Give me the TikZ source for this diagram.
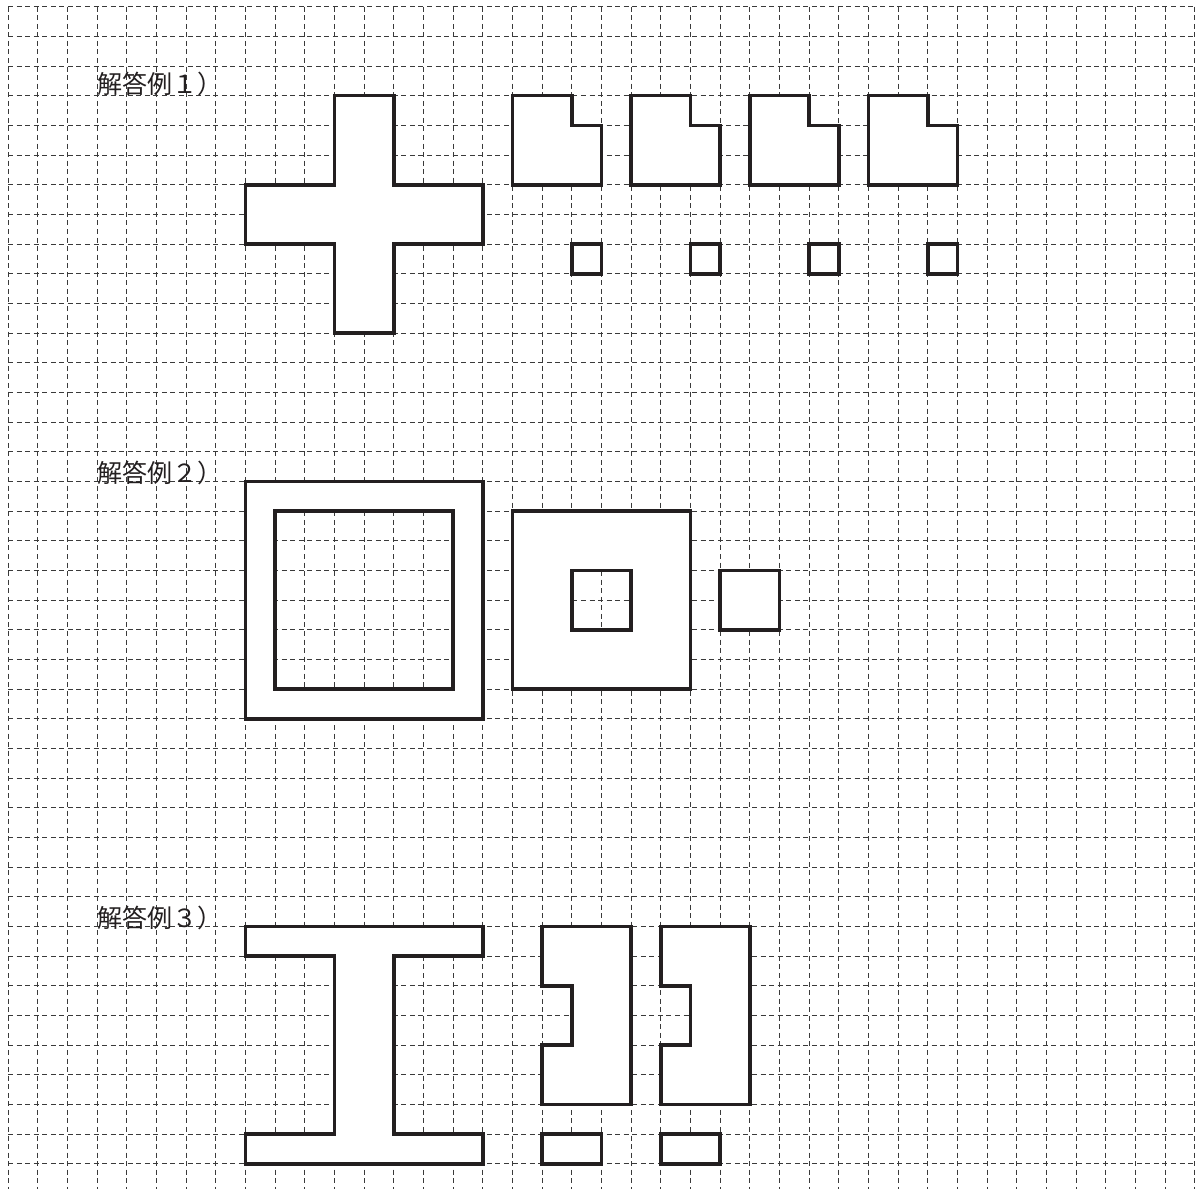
\documentclass[tikz,border=0pt]{standalone}
\usepackage{fontspec}
\newfontfamily\jp{Noto Sans CJK JP}
\definecolor{Ink}{HTML}{231F20}
\definecolor{GridInk}{HTML}{3A3A3A}

\begin{document}
\begin{tikzpicture}[x=0.5cm,y=-0.5cm,every node/.style={font=\jp\fontsize{12}{14}\selectfont,text=Ink},gridline/.style={draw=GridInk,line width=0.45pt,dash pattern=on 2.4pt off 1.7pt},piece/.style={draw=Ink,fill=white,line width=1.7pt,line join=miter}]
\useasboundingbox (-0.27,-0.226) rectangle (40.07,39.84);
\foreach \c in {0,...,40}{\draw[gridline] (\c,0)--(\c,39.84);}
\foreach \r in {0,...,39}{\draw[gridline] (0,\r)--(40,\r);}

% example 1
\node[anchor=west,inner sep=0pt] (ex1) at (3,2.6) {解答例１）};
\draw[piece] (11,3)--(13,3)--(13,6)--(16,6)--(16,8)--(13,8)--(13,11)--(11,11)--(11,8)--(8,8)--(8,6)--(11,6)--cycle;
\foreach \x in {17,21,25,29}{
  \draw[piece] (\x,3)--(\x+2,3)--(\x+2,4)--(\x+3,4)--(\x+3,6)--(\x,6)--cycle;
  \draw[piece] (\x+2,8) rectangle (\x+3,9);}

% example 2
\node[anchor=west,inner sep=0pt] (ex2) at (3,15.7) {解答例２）};
\draw[piece,even odd rule] (8,16) rectangle (16,24) (9,17) rectangle (15,23);
\draw[piece,even odd rule] (17,17) rectangle (23,23) (19,19) rectangle (21,21);
\draw[piece] (24,19) rectangle (26,21);

% example 3
\node[anchor=west,inner sep=0pt] (ex3) at (3,30.7) {解答例３）};
\draw[piece] (8,31)--(16,31)--(16,32)--(13,32)--(13,38)--(16,38)--(16,39)--(8,39)--(8,38)--(11,38)--(11,32)--(8,32)--cycle;
\foreach \x in {18,22}{
  \draw[piece] (\x,31)--(\x+3,31)--(\x+3,37)--(\x,37)--(\x,35)--(\x+1,35)--(\x+1,33)--(\x,33)--cycle;
  \draw[piece] (\x,38) rectangle (\x+2,39);}
\end{tikzpicture}
\end{document}
